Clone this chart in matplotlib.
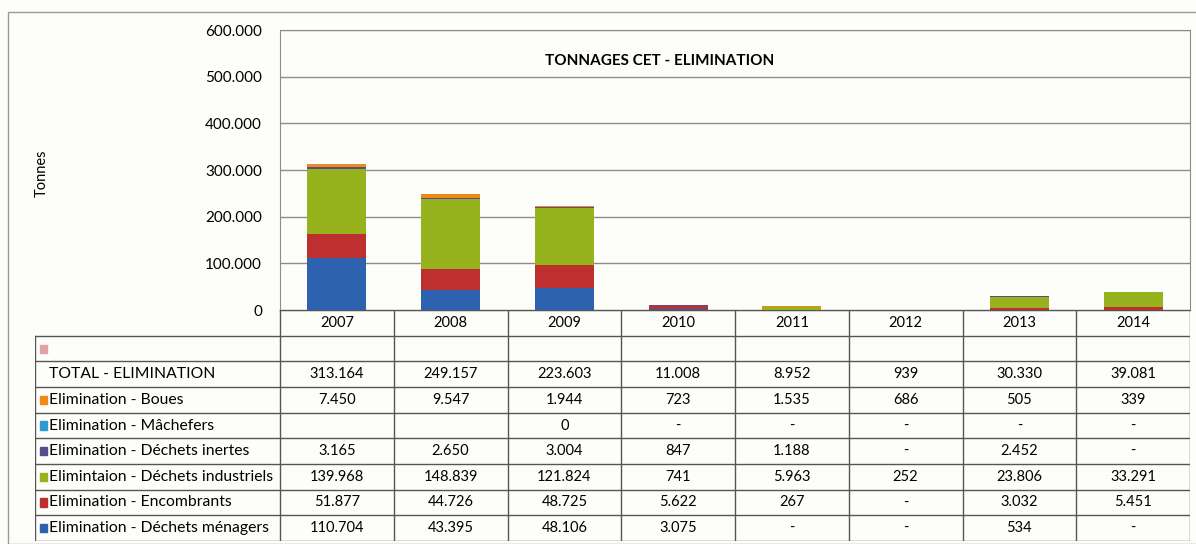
import numpy as np
import matplotlib.pyplot as plt
from matplotlib.patches import Rectangle

# === Data (tonnes) ===
YEARS = ["2007", "2008", "2009", "2010", "2011", "2012", "2013", "2014"]
TOTAL = [313164, 249157, 223603, 11008, 8952, 939, 30330, 39081]

# None -> "-" in the table, nan -> empty cell
BLANK = np.nan
BOUES = [7450, 9547, 1944, 723, 1535, 686, 505, 339]
MACHEFERS = [BLANK, BLANK, 0, None, None, None, None, None]
INERTES = [3165, 2650, 3004, 847, 1188, None, 2452, None]
INDUSTRIELS = [139968, 148839, 121824, 741, 5963, 252, 23806, 33291]
ENCOMBRANTS = [51877, 44726, 48725, 5622, 267, None, 3032, 5451]
MENAGERS = [110704, 43395, 48106, 3075, None, None, 534, None]

# table order (top to bottom) and stacking order (bottom to top) are reversed
SERIES = [
    ("Elimination - Boues", BOUES, "#EE8A1C"),
    ("Elimination - Mâchefers", MACHEFERS, "#2D9BD2"),
    ("Elimination - Déchets inertes", INERTES, "#5B4C8C"),
    ("Elimintaion - Déchets industriels", INDUSTRIELS, "#96B21D"),
    ("Elimination - Encombrants", ENCOMBRANTS, "#BE3030"),
    ("Elimination - Déchets ménagers", MENAGERS, "#2C62AE"),
]

W, H = 1196, 544
plt.rcParams["font.family"] = ["Lato", "DejaVu Sans"]
plt.rcParams["font.size"] = 10.5
FS_NUM = 10.5
FS_LAB = 11.3


def fmt(v):
    if v is None:
        return "-"
    if isinstance(v, float) and np.isnan(v):
        return ""
    return f"{v:,.0f}".replace(",", ".")


def num(v):
    if v is None or (isinstance(v, float) and np.isnan(v)):
        return 0.0
    return float(v)


fig = plt.figure(figsize=(W / 100, H / 100), dpi=100)
fig.patch.set_facecolor("#FDFDF9")

# outer chart frame
fig.patches.append(Rectangle((8 / W, 0), 1.1, 1 - 12 / H, transform=fig.transFigure,
                             fill=False, edgecolor="#9a9a9a", linewidth=1.0))

# === Bar chart ===
x0, x1, yb, yt = 280, 1190, 310, 30
ax = fig.add_axes([x0 / W, 1 - yb / H, (x1 - x0) / W, (yb - yt) / H])
ax.set_facecolor("#FDFDF9")
x = np.arange(len(YEARS))
bottom = np.zeros(len(YEARS))
for name, vals, color in reversed(SERIES):
    v = np.array([num(a) for a in vals])
    ax.bar(x, v, 0.52, bottom=bottom, color=color, zorder=3)
    bottom += v

ax.set_xlim(-0.5, len(YEARS) - 0.5)
ax.set_ylim(0, 600000)
ax.set_yticks(np.arange(0, 600001, 100000))
ax.set_yticklabels([fmt(int(t)) for t in np.arange(0, 600001, 100000)], fontsize=11)
ax.set_xticks([])
ax.tick_params(axis="y", length=0, pad=13)
ax.grid(axis="y", color="#8c8c8c", linewidth=1.0, zorder=0)
for s in ax.spines.values():
    s.set_color("#8c8c8c")
ax.spines["bottom"].set_color("#555555")
ax.set_ylabel("Tonnes", fontsize=10.5)
ax.yaxis.set_label_coords((49 - x0) / (x1 - x0), 0.49)

fig.text(660 / W, 1 - 61 / H, "TONNAGES CET - ELIMINATION", ha="center", va="center",
         fontsize=11, fontweight="bold")

# === Data table below the chart ===
t_left, t_bottom = 35, 541
col_w = (x1 - x0) / len(YEARS)
lab_w = (x0 - t_left) / col_w
tab = fig.add_axes([t_left / W, 1 - t_bottom / H, (x1 - t_left) / W, (t_bottom - yb) / H])
tab.set_xlim(-0.5 - lab_w, len(YEARS) - 0.5)
n_rows = 2 + 1 + len(SERIES)  # header, empty, total, series
tab.set_ylim(n_rows, 0)
tab.axis("off")
lc = "#555555"
lx = -0.5 - lab_w
xr = len(YEARS) - 0.5
# horizontal lines
tab.plot([-0.5, xr], [0, 0], color=lc, lw=1.0)
for r in range(1, n_rows + 1):
    tab.plot([lx, xr], [r, r], color=lc, lw=1.0)
# vertical lines
tab.plot([lx, lx], [1, n_rows], color=lc, lw=1.0)
for i in range(len(YEARS) + 1):
    tab.plot([i - 0.5, i - 0.5], [0, n_rows], color=lc, lw=1.0)

for i, y in enumerate(YEARS):
    tab.text(i, 0.5, y, ha="center", va="center", fontsize=FS_NUM)

# empty row with pink marker
tab.add_patch(Rectangle((lx + 0.04, 1.38), 0.065, 0.3, color="#E3A0A6"))

tab.text(lx + 0.12, 2.5, "TOTAL - ELIMINATION", ha="left", va="center", fontsize=FS_LAB)
for i, v in enumerate(TOTAL):
    tab.text(i, 2.5, fmt(v), ha="center", va="center", fontsize=FS_NUM)

for r, (name, vals, color) in enumerate(SERIES):
    yy = 3.5 + r
    tab.add_patch(Rectangle((lx + 0.04, yy - 0.16), 0.065, 0.32, color=color))
    tab.text(lx + 0.12, yy, name, ha="left", va="center", fontsize=FS_LAB)
    for i, v in enumerate(vals):
        tab.text(i, yy, fmt(v), ha="center", va="center", fontsize=FS_NUM)

fig.savefig("out.png", dpi=100, facecolor=fig.get_facecolor())
